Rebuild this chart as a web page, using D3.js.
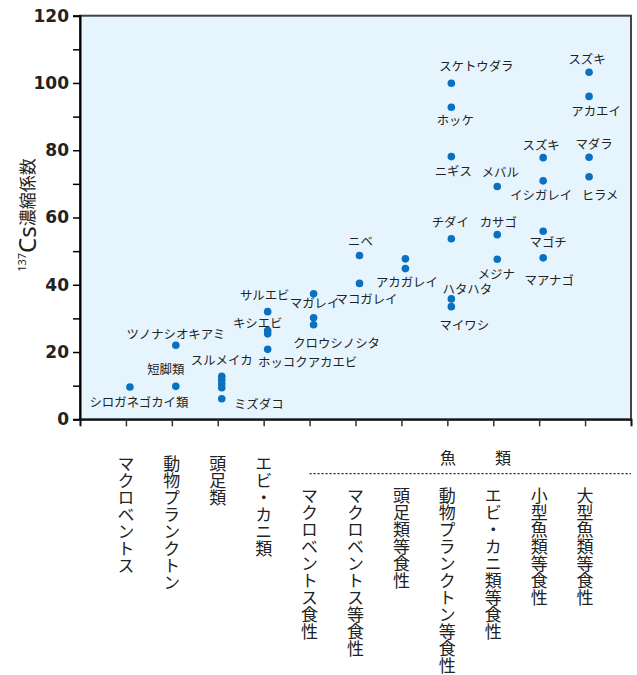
<!DOCTYPE html>
<html>
<head>
<meta charset="utf-8">
<script src="https://cdn.jsdelivr.net/npm/d3@7"></script>
<style>
  body { margin: 0; background: #fff; }
  svg text { fill: #222; }
</style>
</head>
<body>
<script>
// feeding-type categories along the x axis
var categories = ["マクロベントス", "動物プランクトン", "頭足類", "エビ・カニ類",
  "マクロベントス食性", "マクロベントス等食性", "頭足類等食性", "動物プランクトン等食性",
  "エビ・カニ類等食性", "小型魚類等食性", "大型魚類等食性"];
var isFish = [0, 0, 0, 0, 1, 1, 1, 1, 1, 1, 1];

// concentration factor for each organism
var pointName = ["シロガネゴカイ類", "短脚類", "ツノナシオキアミ",
  "スルメイカ", "", "", "", "ミズダコ",
  "サルエビ", "キシエビ", "", "ホッコクアカエビ",
  "マガレイ", "", "クロウシノシタ",
  "マコガレイ", "ニベ",
  "", "アカガレイ",
  "スケトウダラ", "ホッケ", "ニギス", "チダイ", "ハタハタ", "マイワシ",
  "メバル", "カサゴ", "メジナ",
  "スズキ", "イシガレイ", "マゴチ", "マアナゴ",
  "スズキ", "アカエイ", "マダラ", "ヒラメ"];
var pointCat = [0, 1, 1,
  2, 2, 2, 2, 2,
  3, 3, 3, 3,
  4, 4, 4,
  5, 5,
  6, 6,
  7, 7, 7, 7, 7, 7,
  8, 8, 8,
  9, 9, 9, 9,
  10, 10, 10, 10];
var pointValue = [9.6, 9.8, 22.0,
  12.8, 11.8, 10.6, 9.4, 6.1,
  32.0, 26.4, 25.4, 20.8,
  37.3, 30.2, 28.1,
  40.4, 48.7,
  47.7, 44.8,
  99.9, 92.8, 78.1, 53.7, 35.8, 33.5,
  69.2, 54.9, 47.6,
  77.8, 70.9, 55.9, 48.0,
  103.2, 96.0, 77.9, 72.1];

// where each name sits relative to its dot
var labelOffset = [[9, 15], [-10, -17], [0, -11],
  [0, -16], [0, 0], [0, 0], [0, 0], [37, 5],
  [-3, -17], [-10, -8], [0, 0], [40, 13],
  [1, 9], [0, 0], [23, 18],
  [7, 16], [1, -15],
  [0, 0], [1.5, 13],
  [25, -17], [4, 13], [2, 14], [-1, -17], [16, -10], [13, 18],
  [3, -15], [1, -13], [-1, 15],
  [-2, -13], [-2, 14], [5, 11], [6, 22],
  [-2, -13], [7, 15], [5, -13], [11, 18]];

var yTicks = [0, 10, 20, 30, 40, 50, 60, 70, 80, 90, 100, 110, 120];

var width = 637,
    height = 675,
    plotL = 80, plotR = 631, plotT = 15.7, plotB = 419.3;

var svg = d3.select("body").append("svg")
    .attr("width", width)
    .attr("height", height);

var y = d3.scaleLinear().domain([0, 120]).range([plotB, plotT]);
var x = d3.scalePoint().domain(categories).range([plotL, plotR]).padding(1);
// dots sit a few px right of the tick marks
var xDot = d3.scalePoint().domain(categories).range([plotL + 4, plotR + 4]).padding(1);

var jpFont = "'Noto Sans CJK JP', 'Noto Sans', sans-serif";

svg.append("rect")
    .attr("x", plotL).attr("y", plotT)
    .attr("width", plotR - plotL).attr("height", plotB - plotT)
    .attr("fill", "#e6f5fd")
    .attr("stroke", "#444")
    .attr("stroke-width", 2);

// y axis
var yAxis = svg.append("g")
    .attr("transform", "translate(" + plotL + ",0)")
    .call(d3.axisLeft(y).tickValues(yTicks).tickSize(7).tickPadding(4)
      .tickFormat(function(d) { return d % 20 === 0 ? d : ""; }));
yAxis.select(".domain").attr("stroke", "#000").attr("stroke-width", 2);
yAxis.selectAll(".tick line").attr("stroke", "#000").attr("stroke-width", 1.5);
yAxis.selectAll(".tick text")
    .attr("font-family", "'DejaVu Sans', sans-serif")
    .attr("font-weight", "bold")
    .attr("font-size", 17)
    .attr("fill", "#111");

// x axis
var xAxis = svg.append("g")
    .attr("transform", "translate(0," + plotB + ")")
    .call(d3.axisBottom(x).tickSize(7).tickSizeOuter(7).tickFormat(""));
xAxis.select(".domain").attr("stroke", "#111").attr("stroke-width", 2);
xAxis.selectAll(".tick line").attr("stroke", "#333").attr("stroke-width", 1.5);

// y title
var title = svg.append("text")
    .attr("transform", "translate(26,215) rotate(-90)")
    .attr("text-anchor", "middle")
    .attr("dominant-baseline", "central");
title.append("tspan").attr("font-family", "'Noto Sans', sans-serif")
    .attr("font-size", 11).attr("baseline-shift", "40%").text("137");
title.append("tspan").attr("font-family", "'Noto Sans', sans-serif")
    .attr("font-size", 24).text("Cs");
title.append("tspan").attr("font-family", jpFont)
    .attr("font-size", 17).text("濃縮係数");

// dots
var pts = pointValue.map(function(v, i) {
  return { name: pointName[i], cat: categories[pointCat[i]], value: v, off: labelOffset[i] };
});

svg.append("g").selectAll("circle")
    .data(pts)
    .enter().append("circle")
      .attr("cx", function(d) { return xDot(d.cat); })
      .attr("cy", function(d) { return y(d.value); })
      .attr("r", 3.8)
      .attr("fill", "#0a70c0");

svg.append("g").selectAll("text")
    .data(pts.filter(function(d) { return d.name !== ""; }))
    .enter().append("text")
      .attr("x", function(d) { return xDot(d.cat) + d.off[0]; })
      .attr("y", function(d) { return y(d.value) + d.off[1]; })
      .attr("text-anchor", "middle")
      .attr("dominant-baseline", "central")
      .attr("font-family", jpFont)
      .attr("font-size", 12.4)
      .text(function(d) { return d.name; });

// category names, written vertically
svg.append("g").selectAll("text")
    .data(categories)
    .enter().append("text")
      .attr("x", function(d) { return x(d); })
      .attr("y", function(d, i) { return isFish[i] ? 487 : 455; })
      .style("writing-mode", "vertical-rl")
      .style("text-orientation", "upright")
      .attr("font-family", jpFont)
      .attr("font-size", 17)
      .text(function(d) { return d; });

// fish group header
svg.append("text")
    .attr("x", 448).attr("y", 457)
    .attr("text-anchor", "middle").attr("dominant-baseline", "central")
    .attr("font-family", jpFont).attr("font-size", 16)
    .text("魚");
svg.append("text")
    .attr("x", 503).attr("y", 457)
    .attr("text-anchor", "middle").attr("dominant-baseline", "central")
    .attr("font-family", jpFont).attr("font-size", 16)
    .text("類");
svg.append("line")
    .attr("x1", x(categories[4])).attr("x2", plotR)
    .attr("y1", 473.7).attr("y2", 473.7)
    .attr("stroke", "#222")
    .attr("stroke-width", 1.2)
    .attr("stroke-dasharray", "2,2");
</script>
</body>
</html>
